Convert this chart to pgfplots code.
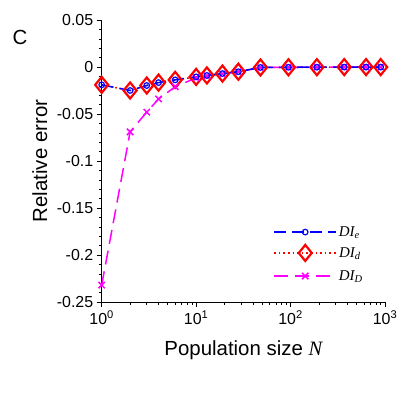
\documentclass[border=0pt]{standalone}
\usepackage{fontspec}
\setmainfont{Liberation Sans}
\newfontfamily\serif{Liberation Serif}
\usepackage{pgfplots}
\pgfplotsset{compat=1.18}
\pgfdeclareplotmark{mydiamond}{%
  \pgfpathmoveto{\pgfqpoint{0bp}{8bp}}%
  \pgfpathlineto{\pgfqpoint{6.5bp}{0bp}}%
  \pgfpathlineto{\pgfqpoint{0bp}{-8bp}}%
  \pgfpathlineto{\pgfqpoint{-6.5bp}{0bp}}%
  \pgfpathclose
  \pgfusepathqstroke}
\definecolor{cblue}{RGB}{0,0,255}
\definecolor{cred}{RGB}{255,0,0}
\definecolor{cmag}{RGB}{255,0,255}
\pgfplotsset{
  stE/.style={cblue, line width=1.5bp, dash pattern=on 12bp off 6bp, mark=o, mark size=2.8bp, mark options={solid, line width=1.2bp}},
  stD/.style={cred, line width=1.6bp, dash pattern=on 1.6bp off 3bp, mark=mydiamond, mark options={solid, line width=2.2bp}},
  stM/.style={cmag, line width=1.5bp, dash pattern=on 14bp off 7bp, mark=x, mark size=4.5bp, mark options={solid, line width=1.5bp}},
  legaxis/.style={at={(0,0)}, anchor=south west, scale only axis, width=283.3bp, height=282bp,
    hide axis, xmin=0, xmax=1, ymin=0, ymax=1,
    legend style={at={(0.595,#1)}, anchor=west, draw=none, fill=none,
      font=\serif\itshape\fontsize{15}{18}\selectfont},
    legend image code/.code={\draw[mark repeat=2,mark phase=2] plot coordinates {(0bp,0bp) (31bp,0bp) (62bp,0bp)};}},
}
\begin{document}
\begin{tikzpicture}
\path[use as bounding box] (-101.7bp,-103bp) rectangle (303.3bp,302bp);
\begin{axis}[
  at={(0,0)}, anchor=south west,
  scale only axis, width=283.3bp, height=282bp,
  xmode=log, xmin=1, xmax=1000,
  ymin=-0.25, ymax=0.05,
  axis lines*=left,
  axis line style={line width=0.8bp},
  tick align=outside,
  major tick length=5bp, minor tick length=3bp,
  every tick/.style={black, line width=0.6bp},
  xtick={1,10,100,1000},
  xticklabels={10\textsuperscript{0},10\textsuperscript{1},10\textsuperscript{2},10\textsuperscript{3}},
  ytick={-0.25,-0.2,-0.15,-0.1,-0.05,0,0.05},
  yticklabels={-0.25,-0.2,-0.15,-0.1,-0.05,0,0.05},
  minor y tick num=4,
  tick label style={font=\fontsize{16}{18}\selectfont},
  every axis x label/.style={at={(axis description cs:0.5,-0.17)},anchor=center},
  every axis y label/.style={at={(axis description cs:-0.218,0.5)},rotate=90,anchor=center},
  label style={font=\fontsize{20.5}{24}\selectfont},
  xlabel={Population size {\serif\itshape N}},
  ylabel={Relative error},
  clip=false,
]
\addplot[stD] coordinates {
(1,-0.019) (2,-0.025) (3,-0.0197) (4,-0.0166) (6,-0.0137) (10,-0.0105) (13,-0.009) (19,-0.007) (28,-0.005) (48,-0.0005) (95,-0.0003) (190,-0.0002) (370,-0.0001) (630,-0.0001) (900,-0.0001)};
\addplot[stM] coordinates {
(1,-0.232) (2,-0.069) (3,-0.048) (4,-0.034) (6,-0.021) (10,-0.0116) (13,-0.0095) (19,-0.0072) (28,-0.005) (48,-0.0006) (95,-0.0003) (190,-0.0002) (370,-0.0001) (630,-0.0001) (900,-0.0001)};
\addplot[stE] coordinates {
(1,-0.019) (2,-0.025) (3,-0.0197) (4,-0.0166) (6,-0.0137) (10,-0.0105) (13,-0.009) (19,-0.007) (28,-0.005) (48,-0.0005) (95,-0.0003) (190,-0.0002) (370,-0.0001) (630,-0.0001) (900,-0.0001)};
\end{axis}
\begin{axis}[legaxis=0.248]
\addlegendimage{stE}
\addlegendentry{DI\textsubscript{e}}
\end{axis}
\begin{axis}[legaxis=0.174]
\addlegendimage{stD}
\addlegendentry{DI\textsubscript{d}}
\end{axis}
\begin{axis}[legaxis=0.092]
\addlegendimage{stM}
\addlegendentry{DI\textsubscript{D}}
\end{axis}
\node[font=\fontsize{20.5}{24}\selectfont] at (-81.7bp,265bp) {C};
\end{tikzpicture}
\end{document}
